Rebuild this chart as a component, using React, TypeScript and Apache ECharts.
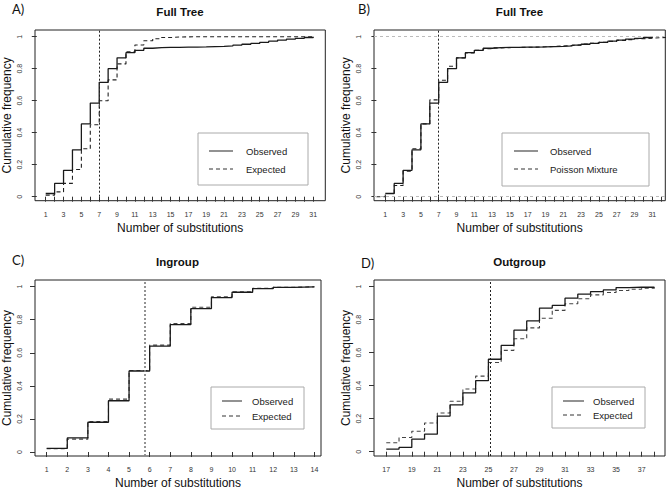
import React, { useEffect, useRef } from "react";
import * as echarts from "echarts";

// ---------- data ----------
const xA: number[] = [1,2,3,4,5,6,7,8,9,10,11,12,13,14,15,16,17,18,19,20,21,22,23,24,25,26,27,28,29,30,31];
const observedFull: number[] = [0.02,0.083,0.165,0.293,0.455,0.585,0.715,0.8,0.868,0.9,0.915,0.928,0.932,0.933,0.934,0.935,0.935,0.936,0.938,0.94,0.943,0.948,0.953,0.958,0.965,0.972,0.979,0.985,0.99,0.995,1.0];
const expectedFull: number[] = [0.01,0.03,0.083,0.17,0.3,0.45,0.6,0.73,0.83,0.905,0.948,0.975,0.987,0.995,0.998,0.999,1,1,1,1,1,1,1,1,1,1,1,1,1,1,1];

const xMix: number[] = [0,1,2,3,4,5,6,7,8,9,10,11,12,13,14,15,16,17,18,19,20,21,22,23,24,25,26,27,28,29,30,31,32,33];
const mixtureFull: number[] = [0.0,0.02,0.07,0.16,0.3,0.455,0.605,0.728,0.815,0.868,0.898,0.915,0.925,0.93,0.932,0.933,0.934,0.935,0.937,0.939,0.942,0.945,0.949,0.954,0.959,0.965,0.971,0.977,0.982,0.987,0.991,0.994,0.996,0.997];

const xC: number[] = [1,2,3,4,5,6,7,8,9,10,11,12,13,14];
const observedIn: number[] = [0.022,0.085,0.18,0.31,0.49,0.64,0.77,0.867,0.934,0.966,0.988,0.996,0.998,1.0];
const expectedIn: number[] = [0.02,0.078,0.185,0.32,0.493,0.646,0.777,0.875,0.938,0.968,0.99,0.996,0.999,1.0];

const xD: number[] = [17,18,19,20,21,22,23,24,25,26,27,28,29,30,31,32,33,34,35,36,37,38];
const observedOut: number[] = [0.016,0.026,0.076,0.106,0.216,0.284,0.356,0.43,0.56,0.644,0.736,0.792,0.87,0.886,0.93,0.954,0.97,0.98,0.994,0.996,0.996,1.0];
const expectedOut: number[] = [0.054,0.086,0.124,0.174,0.234,0.306,0.38,0.458,0.54,0.614,0.684,0.75,0.808,0.856,0.896,0.926,0.95,0.964,0.976,0.984,0.99,0.996];

const yTicks: number[] = [0, 0.2, 0.4, 0.6, 0.8, 1];
const ticksAB: number[] = xA;
const labelsAB: number[] = [1,3,5,7,9,11,13,15,17,19,21,23,25,27,29,31];
const ticksB: number[] = [...xA, 32];
const ticksC: number[] = xC;
const ticksD: number[] = xD;
const labelsD: number[] = [17,19,21,23,25,27,29,31,33,35,37];

const cutoffA = 7;
const cutoffB = 7;
const cutoffC = 5.75;
const cutoffD = 25.15;

const titles = ["Full Tree", "Full Tree", "Ingroup", "Outgroup"];
const letters = ["A)", "B)", "C)", "D)"];

// ---------- helpers ----------
const FONT = "'Liberation Sans', Arial, sans-serif";
const zip = (xs: number[], ys: number[]) => xs.map((x, i) => [x, ys[i]]);

const grids = [
  { left: 35, top: 30, width: 290.3, height: 170.7, xmin: -0.2, xmax: 32.35, ymin: -0.025, ymax: 1.042, ticks: ticksAB, labels: labelsAB },
  { left: 374, top: 30, width: 291.3, height: 170.7, xmin: -0.27, xmax: 32.46, ymin: -0.025, ymax: 1.042, ticks: ticksB, labels: labelsAB },
  { left: 34.3, top: 280, width: 286.7, height: 178.3, xmin: 0.433, xmax: 14.32, ymin: -0.024, ymax: 1.04, ticks: ticksC, labels: ticksC },
  { left: 374, top: 280, width: 291, height: 177.7, xmin: 16.04, xmax: 38.83, ymin: -0.026, ymax: 1.04, ticks: ticksD, labels: labelsD },
];

function stepSeries(name: string, data: number[][], idx: number, dashed: boolean, color: string, width: number, markLine?: any) {
  const s: any = {
    name,
    type: "line",
    step: "end",
    xAxisIndex: idx,
    yAxisIndex: idx,
    data,
    symbol: "none",
    showSymbol: false,
    silent: true,
    lineStyle: { color, width, type: dashed ? [4, 3] : "solid" },
    z: dashed ? 3 : 4,
  };
  if (markLine) s.markLine = markLine;
  return s;
}

function vline(x: number, color: string, width: number) {
  return { xAxis: x, lineStyle: { color, width, type: [2, 2] } };
}

function legendGraphic(x: number, y: number, w: number, h: number, lx1: number, lx2: number, tx: number, r1: number, r2: number, name2: string) {
  return [
    { type: "rect", shape: { x, y, width: w, height: h }, style: { fill: "#fff", stroke: "#aaa", lineWidth: 1 }, z: 10 },
    { type: "line", shape: { x1: lx1, y1: r1, x2: lx2, y2: r1 }, style: { stroke: "#777", lineWidth: 1.6 }, z: 11 },
    { type: "line", shape: { x1: lx1, y1: r2, x2: lx2, y2: r2 }, style: { stroke: "#333", lineWidth: 1, lineDash: [4, 3] }, z: 11 },
    { type: "text", x: tx, y: r1, style: { text: "Observed", font: `9.5px ${FONT}`, fill: "#222", verticalAlign: "middle", align: "left" }, z: 11 },
    { type: "text", x: tx, y: r2, style: { text: name2, font: `9.5px ${FONT}`, fill: "#222", verticalAlign: "middle", align: "left" }, z: 11 },
  ];
}

export default function App() {
  const ref = useRef<HTMLDivElement>(null);
  useEffect(() => {
    if (!ref.current) return;
    const chart = echarts.init(ref.current, undefined, { renderer: "svg" });

    const option: any = {
      animation: false,
      backgroundColor: "#fff",
      grid: grids.map((g) => ({ left: g.left, top: g.top, width: g.width, height: g.height, show: true, borderColor: "#222", borderWidth: 1, backgroundColor: "transparent" })),
      xAxis: grids.map((g, i) => ({
        type: "value",
        gridIndex: i,
        min: g.xmin,
        max: g.xmax,
        name: "Number of substitutions",
        nameLocation: "middle",
        nameGap: 21,
        nameTextStyle: { fontFamily: FONT, fontSize: 12, color: "#111" },
        axisLine: { show: false },
        splitLine: { show: false },
        axisTick: { show: true, inside: false, length: 5, customValues: g.ticks, lineStyle: { color: "#333", width: 1 } },
        axisLabel: { show: true, margin: 10, customValues: g.labels, fontFamily: FONT, fontSize: 7, color: "#333", formatter: (v: number) => String(v) },
      })),
      yAxis: grids.map((g, i) => ({
        type: "value",
        gridIndex: i,
        min: g.ymin,
        max: g.ymax,
        name: "Cumulative frequency",
        nameLocation: "middle",
        nameGap: 22,
        nameTextStyle: { fontFamily: FONT, fontSize: 12, color: "#111" },
        axisLine: { show: false },
        splitLine: { show: false },
        axisTick: { show: true, inside: false, length: 5, customValues: yTicks, lineStyle: { color: "#333", width: 1 } },
        axisLabel: { show: true, rotate: 90, margin: 12, customValues: yTicks, fontFamily: FONT, fontSize: 7, color: "#333", formatter: (v: number) => String(v) },
      })),
      series: [
        stepSeries("Observed", zip(xA, observedFull), 0, false, "#1a1a1a", 1.3, { symbol: "none", silent: true, label: { show: false }, data: [vline(cutoffA, "#222", 1)] }),
        stepSeries("Expected", zip(xA, expectedFull), 0, true, "#222", 1.1),
        stepSeries("Observed", zip(xA, observedFull), 1, false, "#1a1a1a", 1.3, {
          symbol: "none", silent: true, label: { show: false },
          data: [
            vline(cutoffB, "#222", 1),
            { yAxis: 0, lineStyle: { color: "#bbb", width: 1, type: [3, 3] } },
            { yAxis: 1, lineStyle: { color: "#bbb", width: 1, type: [3, 3] } },
          ],
        }),
        stepSeries("Poisson Mixture", zip(xMix, mixtureFull), 1, true, "#222", 1.1),
        stepSeries("Observed", zip(xC, observedIn), 2, false, "#1a1a1a", 1.3, { symbol: "none", silent: true, label: { show: false }, data: [vline(cutoffC, "#888", 1.8)] }),
        stepSeries("Expected", zip(xC, expectedIn), 2, true, "#444", 1.1),
        stepSeries("Observed", zip(xD, observedOut), 3, false, "#1a1a1a", 1.3, { symbol: "none", silent: true, label: { show: false }, data: [vline(cutoffD, "#222", 1)] }),
        stepSeries("Expected", zip(xD, expectedOut), 3, true, "#444", 1.1),
      ],
      graphic: [
        { type: "text", x: 180, y: 12, style: { text: titles[0], font: `bold 11.5px ${FONT}`, fill: "#111", align: "center", verticalAlign: "middle" } },
        { type: "text", x: 519.5, y: 12, style: { text: titles[1], font: `bold 11.5px ${FONT}`, fill: "#111", align: "center", verticalAlign: "middle" } },
        { type: "text", x: 177.5, y: 262, style: { text: titles[2], font: `bold 11.5px ${FONT}`, fill: "#111", align: "center", verticalAlign: "middle" } },
        { type: "text", x: 519.5, y: 262, style: { text: titles[3], font: `bold 11.5px ${FONT}`, fill: "#111", align: "center", verticalAlign: "middle" } },
        { type: "text", x: 12, y: 9, style: { text: letters[0], font: `13px Lato, sans-serif`, fill: "#111", align: "left", verticalAlign: "middle" } },
        { type: "text", x: 358, y: 9, style: { text: letters[1], font: `13px Lato, sans-serif`, fill: "#111", align: "left", verticalAlign: "middle" } },
        { type: "text", x: 12, y: 260, style: { text: letters[2], font: `13px Lato, sans-serif`, fill: "#111", align: "left", verticalAlign: "middle" } },
        { type: "text", x: 361, y: 263, style: { text: letters[3], font: `13px Lato, sans-serif`, fill: "#111", align: "left", verticalAlign: "middle" } },
        ...legendGraphic(198, 133, 110, 52, 209, 233, 246, 151, 169, "Expected"),
        ...legendGraphic(502, 133, 147, 53, 514, 538, 550, 151, 169, "Poisson Mixture"),
        ...legendGraphic(211, 387, 93, 42, 222, 242, 252, 401, 416, "Expected"),
        ...legendGraphic(552, 387, 93, 41, 563, 584, 593, 401, 415, "Expected"),
      ],
    };
    chart.setOption(option);
    return () => chart.dispose();
  }, []);
  return <div ref={ref} style={{ width: 666, height: 490, position: "absolute", left: 0, top: 0 }} />;
}
